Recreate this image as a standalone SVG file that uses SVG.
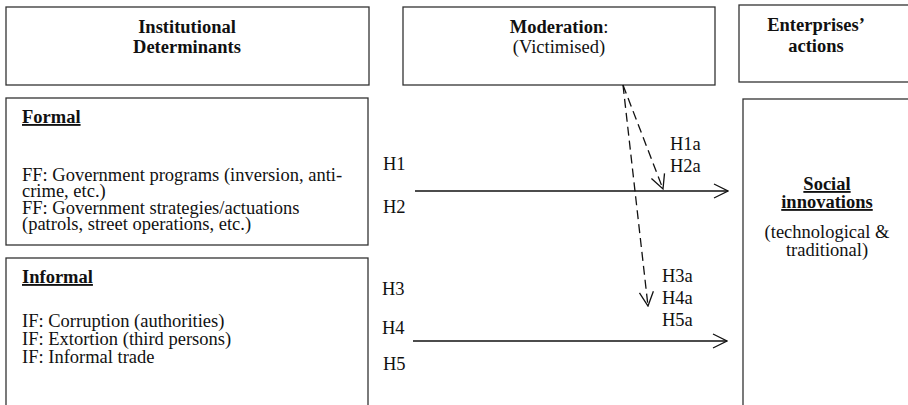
<svg xmlns="http://www.w3.org/2000/svg" width="908" height="405" viewBox="0 0 908 405">
<style>
.box{fill:#fff;stroke:#333;stroke-width:1.3}
text{font-family:'Liberation Serif','Times New Roman',Times,serif;font-size:18.5px;fill:#111}
.b{font-weight:bold}
.c{text-anchor:middle}
.u{text-decoration:underline}
.ln{stroke:#111;stroke-width:1.3;fill:none}
.d{stroke-dasharray:9,5}
</style>
<defs>
<marker id="ah" viewBox="0 0 16 16" refX="15" refY="8" markerWidth="16" markerHeight="16" markerUnits="userSpaceOnUse" orient="auto">
<path d="M1,1 L15,8 L1,15" fill="none" stroke="#111" stroke-width="1.3"/>
</marker>
</defs>
<rect width="908" height="405" fill="#fff"/>
<g id="institutional">
<rect class="box" x="6" y="7" width="363" height="78"/>
<text class="b c" x="187" y="33">Institutional</text>
<text class="b c" x="187" y="53">Determinants</text>
</g>
<g id="moderation">
<rect class="box" x="403" y="7" width="312" height="78"/>
<text class="c" x="559" y="33"><tspan class="b">Moderation</tspan>:</text>
<text class="c" x="559" y="53">(Victimised)</text>
</g>
<g id="enterprises">
<rect class="box" x="739" y="5" width="180" height="77"/>
<text class="b c" x="816" y="31">Enterprises’</text>
<text class="b c" x="816" y="52">actions</text>
</g>
<g id="formal">
<rect class="box" x="6" y="98" width="362" height="147"/>
<text class="b u" x="22" y="123">Formal</text>
<text x="22" y="180.5">FF: Government programs (inversion, anti-</text>
<text x="22" y="197">crime, etc.)</text>
<text x="22" y="213.5">FF: Government strategies/actuations</text>
<text x="22" y="230">(patrols, street operations, etc.)</text>
</g>
<g id="informal">
<rect class="box" x="6" y="258" width="362" height="160"/>
<text class="b u" x="22" y="283">Informal</text>
<text x="22" y="327">IF: Corruption (authorities)</text>
<text x="22" y="345">IF: Extortion (third persons)</text>
<text x="22" y="362.5">IF: Informal trade</text>
</g>
<g id="social">
<rect class="box" x="743" y="99" width="180" height="320"/>
<text class="b u c" x="827" y="190">Social</text>
<text class="b u c" x="827" y="208">innovations</text>
<text class="c" x="827" y="238">(technological &amp;</text>
<text class="c" x="827" y="256">traditional)</text>
</g>
<g id="connectors">
<line class="ln" x1="415" y1="191" x2="728" y2="191" marker-end="url(#ah)"/>
<line class="ln" x1="413" y1="341" x2="727" y2="341" marker-end="url(#ah)"/>
<line class="ln d" x1="623" y1="85" x2="663" y2="189" marker-end="url(#ah)"/>
<line class="ln d" x1="623" y1="85" x2="648" y2="306" marker-end="url(#ah)"/>
</g>
<g id="labels">
<text x="383" y="170">H1</text>
<text x="383" y="213">H2</text>
<text x="382" y="295">H3</text>
<text x="382" y="334">H4</text>
<text x="383" y="370">H5</text>
<text x="670" y="150">H1a</text>
<text x="670" y="172">H2a</text>
<text x="662" y="282">H3a</text>
<text x="662" y="304">H4a</text>
<text x="662" y="326">H5a</text>
</g>
</svg>
